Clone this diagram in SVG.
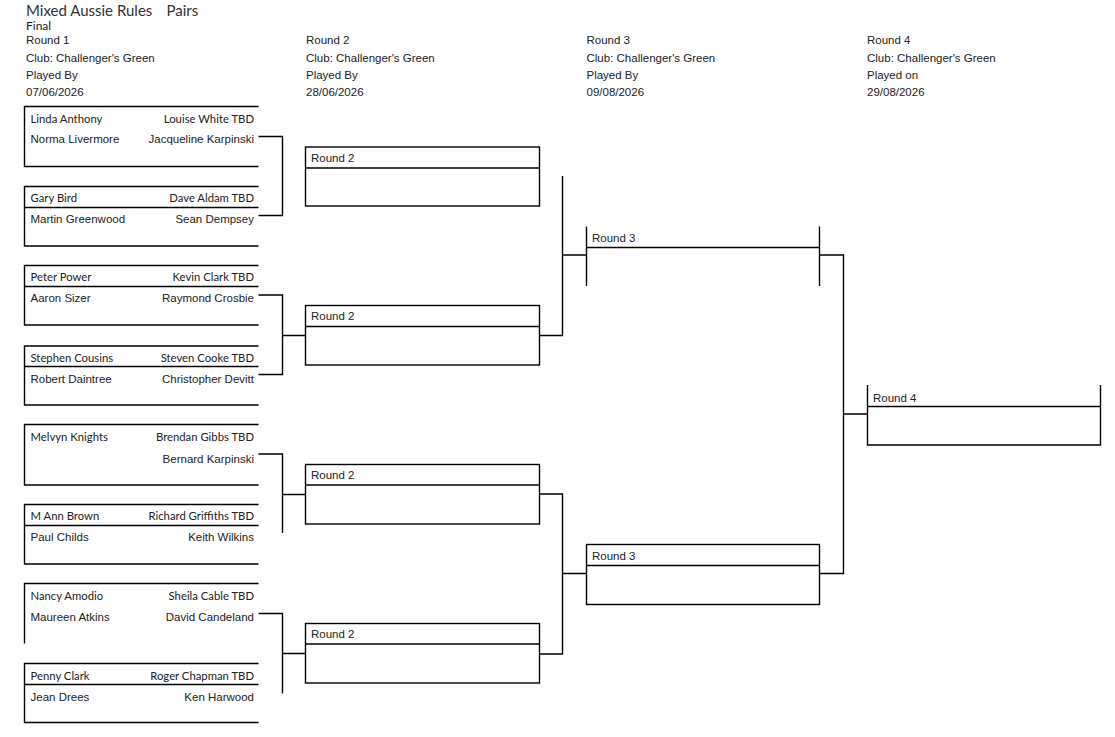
<svg xmlns="http://www.w3.org/2000/svg" width="1115" height="737" viewBox="0 0 1115 737">
<style>
.ln{fill:none;stroke:#000;stroke-width:1.4}
.la{font-family:Lato,"Liberation Sans",sans-serif;font-size:11.3px;fill:#222}
.ar{font-family:"Liberation Sans",Arial,sans-serif;font-size:11.5px;fill:#222}
.r{text-anchor:end}
.ttl{font-family:Lato,"Liberation Sans",sans-serif;font-size:15px;fill:#333}
.fin{font-family:Lato,"Liberation Sans",sans-serif;font-size:12px;fill:#222}
</style>
<rect width="1115" height="737" fill="#fff"/>
<g id="header">
<text class="ttl" x="26" y="15.5">Mixed Aussie Rules</text>
<text class="ttl" x="166.5" y="15.5">Pairs</text>
<text class="fin" x="26" y="30">Final</text>
<text class="ar" x="26" y="44">Round 1</text>
<text class="ar" x="26" y="61.5">Club: Challenger's Green</text>
<text class="ar" x="26" y="79">Played By</text>
<text class="ar" x="26" y="96">07/06/2026</text>
<text class="ar" x="306" y="44">Round 2</text>
<text class="ar" x="306" y="61.5">Club: Challenger's Green</text>
<text class="ar" x="306" y="79">Played By</text>
<text class="ar" x="306" y="96">28/06/2026</text>
<text class="ar" x="586.5" y="44">Round 3</text>
<text class="ar" x="586.5" y="61.5">Club: Challenger's Green</text>
<text class="ar" x="586.5" y="79">Played By</text>
<text class="ar" x="586.5" y="96">09/08/2026</text>
<text class="ar" x="867" y="44">Round 4</text>
<text class="ar" x="867" y="61.5">Club: Challenger's Green</text>
<text class="ar" x="867" y="79">Played on</text>
<text class="ar" x="867" y="96">29/08/2026</text>
</g>
<g id="r1-m1">
<path class="ln" d="M258.5,106.5H24.5V166.5H258.5"/>
<text class="la" x="30.5" y="122.5">Linda Anthony</text>
<text class="la r" x="254" y="122.5">Louise White TBD</text>
<text class="ar" x="30.5" y="142.5">Norma Livermore</text>
<text class="ar r" x="254" y="142.5">Jacqueline Karpinski</text>
</g>
<g id="r1-m2">
<path class="ln" d="M258.5,186.5H24.5V246H258.5M24.5,207.5H258.5"/>
<text class="la" x="30.5" y="202">Gary Bird</text>
<text class="la r" x="254" y="202">Dave Aldam TBD</text>
<text class="ar" x="30.5" y="222.5">Martin Greenwood</text>
<text class="ar r" x="254" y="222.5">Sean Dempsey</text>
</g>
<g id="r1-m3">
<path class="ln" d="M258.5,265.5H24.5V325H258.5M24.5,286.5H258.5"/>
<text class="la" x="30.5" y="281">Peter Power</text>
<text class="la r" x="254" y="281">Kevin Clark TBD</text>
<text class="ar" x="30.5" y="302">Aaron Sizer</text>
<text class="ar r" x="254" y="302">Raymond Crosbie</text>
</g>
<g id="r1-m4">
<path class="ln" d="M258.5,346H24.5V405H258.5M24.5,366.5H258.5"/>
<text class="la" x="30.5" y="361.5">Stephen Cousins</text>
<text class="la r" x="254" y="361.5">Steven Cooke TBD</text>
<text class="ar" x="30.5" y="382.5">Robert Daintree</text>
<text class="ar r" x="254" y="382.5">Christopher Devitt</text>
</g>
<g id="r1-m5">
<path class="ln" d="M258.5,424.5H24.5V485H258.5"/>
<text class="la" x="30.5" y="441">Melvyn Knights</text>
<text class="la r" x="254" y="441">Brendan Gibbs TBD</text>
<text class="ar r" x="254" y="462.5">Bernard Karpinski</text>
</g>
<g id="r1-m6">
<path class="ln" d="M258.5,504.5H24.5V564H258.5M24.5,525.5H258.5"/>
<text class="la" x="30.5" y="520">M Ann Brown</text>
<text class="la r" x="254" y="520">Richard Griffiths TBD</text>
<text class="ar" x="30.5" y="541">Paul Childs</text>
<text class="ar r" x="254" y="541">Keith Wilkins</text>
</g>
<g id="r1-m7">
<path class="ln" d="M258.5,583.5H24.5V643.5"/>
<text class="la" x="30.5" y="600">Nancy Amodio</text>
<text class="la r" x="254" y="600">Sheila Cable TBD</text>
<text class="ar" x="30.5" y="621">Maureen Atkins</text>
<text class="ar r" x="254" y="621">David Candeland</text>
</g>
<g id="r1-m8">
<path class="ln" d="M258.5,663.5H24.5V722.5H258.5M24.5,684.5H258.5"/>
<text class="la" x="30.5" y="680">Penny Clark</text>
<text class="la r" x="254" y="680">Roger Chapman TBD</text>
<text class="ar" x="30.5" y="701">Jean Drees</text>
<text class="ar r" x="254" y="701">Ken Harwood</text>
</g>
<g id="r2-m1">
<rect class="ln" x="305.5" y="147" width="234" height="59"/>
<path class="ln" d="M305.5,168H539.5"/>
<text class="ar" x="311" y="161.5">Round 2</text>
</g>
<g id="r2-m2">
<rect class="ln" x="305.5" y="305.5" width="234" height="59.5"/>
<path class="ln" d="M305.5,326.5H539.5"/>
<text class="ar" x="311" y="320">Round 2</text>
</g>
<g id="r2-m3">
<rect class="ln" x="305.5" y="464.5" width="234" height="59.5"/>
<path class="ln" d="M305.5,485H539.5"/>
<text class="ar" x="311" y="479">Round 2</text>
</g>
<g id="r2-m4">
<rect class="ln" x="305.5" y="623.5" width="234" height="59.5"/>
<path class="ln" d="M305.5,644H539.5"/>
<text class="ar" x="311" y="638">Round 2</text>
</g>
<g id="r3-m1">
<path class="ln" d="M586.5,226.5V286M819.5,226.5V286M586.5,247.5H819.5"/>
<text class="ar" x="592" y="241.5">Round 3</text>
</g>
<g id="r3-m2">
<rect class="ln" x="586.5" y="544.5" width="233" height="60"/>
<path class="ln" d="M586.5,565.5H819.5"/>
<text class="ar" x="592" y="560">Round 3</text>
</g>
<g id="r4-m1">
<path class="ln" d="M867.5,385V445H1100.5V385M867.5,406.5H1100.5"/>
<text class="ar" x="873" y="401.5">Round 4</text>
</g>
<g id="connectors">
<path class="ln" d="M258.5,136.5H282.5V215.5H258.5"/>
<path class="ln" d="M258.5,295H282.5V374.5H258.5M282.5,335.5H305.5"/>
<path class="ln" d="M258.5,454H282.5V533M282.5,494.5H305.5"/>
<path class="ln" d="M258.5,613.5H282.5V693.5M282.5,653.5H305.5"/>
<path class="ln" d="M562.5,176V335.5H539.5M562.5,255H586.5"/>
<path class="ln" d="M539.5,494H562.5V654H539.5M562.5,573.5H586.5"/>
<path class="ln" d="M819.5,255H843.5V573.5H819.5M843.5,414H867.5"/>
</g>
</svg>
